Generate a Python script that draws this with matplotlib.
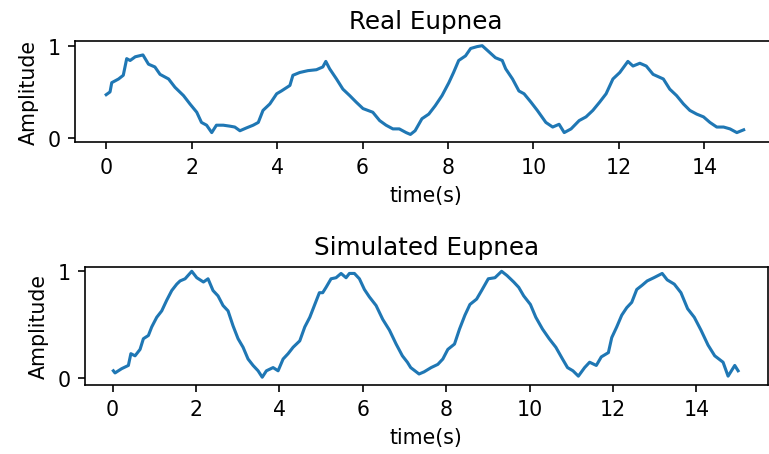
import matplotlib
matplotlib.use("Agg")
import matplotlib.pyplot as plt

# Real eupnea trace
real_t = [0, 0.09, 0.13, 0.29, 0.40, 0.48, 0.56, 0.68, 0.86, 0.99,
          1.14, 1.26, 1.46, 1.61, 1.81, 1.96, 2.12, 2.23, 2.35, 2.47,
          2.58, 2.74, 2.89, 3.01, 3.13, 3.28, 3.44, 3.56, 3.67, 3.83,
          3.99, 4.10, 4.30, 4.37, 4.53, 4.72, 4.92, 5.07, 5.14, 5.23,
          5.39, 5.54, 5.70, 5.85, 6.01, 6.24, 6.40, 6.55, 6.71, 6.86,
          7.02, 7.12, 7.23, 7.39, 7.55, 7.70, 7.86, 8.02, 8.13, 8.25,
          8.41, 8.53, 8.68, 8.80, 8.92, 9.11, 9.27, 9.35, 9.51, 9.66,
          9.78, 9.94, 10.09, 10.29, 10.45, 10.60, 10.72, 10.88, 11.07, 11.23,
          11.39, 11.55, 11.70, 11.86, 12.02, 12.21, 12.33, 12.49, 12.64, 12.80,
          13.04, 13.19, 13.35, 13.51, 13.66, 13.82, 13.98, 14.13, 14.29, 14.45,
          14.60, 14.76, 14.92]
real_amp = [0.47, 0.50, 0.60, 0.64, 0.68, 0.86, 0.84, 0.88, 0.90, 0.80,
            0.77, 0.69, 0.64, 0.55, 0.46, 0.37, 0.28, 0.17, 0.14, 0.06,
            0.14, 0.14, 0.13, 0.12, 0.08, 0.11, 0.14, 0.17, 0.30, 0.37,
            0.48, 0.51, 0.57, 0.68, 0.71, 0.73, 0.74, 0.77, 0.83, 0.75,
            0.64, 0.53, 0.46, 0.39, 0.32, 0.28, 0.19, 0.14, 0.10, 0.10,
            0.06, 0.04, 0.08, 0.21, 0.26, 0.35, 0.46, 0.60, 0.71, 0.84,
            0.89, 0.97, 0.99, 1.00, 0.95, 0.87, 0.84, 0.75, 0.64, 0.51,
            0.48, 0.39, 0.30, 0.17, 0.12, 0.15, 0.06, 0.10, 0.19, 0.23,
            0.30, 0.39, 0.48, 0.64, 0.71, 0.83, 0.78, 0.81, 0.78, 0.69,
            0.64, 0.53, 0.46, 0.37, 0.30, 0.26, 0.23, 0.17, 0.12, 0.12,
            0.10, 0.06, 0.09]

# Simulated eupnea trace
sim_t = [0.02, 0.06, 0.22, 0.38, 0.44, 0.54, 0.66, 0.74, 0.86, 0.94,
         1.06, 1.18, 1.30, 1.42, 1.54, 1.62, 1.74, 1.90, 2.02, 2.18,
         2.29, 2.41, 2.53, 2.65, 2.77, 2.89, 3.01, 3.13, 3.25, 3.37,
         3.49, 3.59, 3.69, 3.85, 3.97, 4.09, 4.21, 4.33, 4.49, 4.61,
         4.73, 4.84, 4.96, 5.04, 5.12, 5.24, 5.36, 5.48, 5.60, 5.68,
         5.80, 5.92, 6.04, 6.16, 6.32, 6.48, 6.64, 6.80, 6.95, 7.07,
         7.15, 7.35, 7.47, 7.64, 7.80, 7.92, 8.04, 8.20, 8.32, 8.45,
         8.57, 8.73, 8.85, 9.01, 9.17, 9.33, 9.46, 9.62, 9.74, 9.86,
         10.02, 10.15, 10.31, 10.47, 10.63, 10.79, 10.91, 11.04, 11.17, 11.32,
         11.44, 11.60, 11.72, 11.89, 11.97, 12.09, 12.21, 12.33, 12.45, 12.57,
         12.70, 12.82, 12.98, 13.18, 13.30, 13.47, 13.63, 13.79, 13.95, 14.11,
         14.28, 14.44, 14.64, 14.76, 14.92, 15.00]
sim_amp = [0.07, 0.05, 0.09, 0.12, 0.23, 0.21, 0.27, 0.37, 0.40, 0.48,
           0.57, 0.63, 0.73, 0.82, 0.88, 0.91, 0.93, 1.00, 0.94, 0.90,
           0.93, 0.82, 0.77, 0.68, 0.63, 0.49, 0.37, 0.29, 0.18, 0.12,
           0.07, 0.01, 0.07, 0.10, 0.07, 0.18, 0.23, 0.29, 0.35, 0.48,
           0.57, 0.68, 0.80, 0.80, 0.85, 0.93, 0.94, 0.98, 0.94, 0.98,
           0.98, 0.93, 0.83, 0.76, 0.68, 0.55, 0.45, 0.32, 0.21, 0.15,
           0.10, 0.04, 0.06, 0.10, 0.13, 0.18, 0.27, 0.32, 0.46, 0.59,
           0.69, 0.74, 0.82, 0.93, 0.94, 1.00, 0.96, 0.90, 0.85, 0.77,
           0.69, 0.57, 0.46, 0.37, 0.29, 0.18, 0.10, 0.07, 0.02, 0.10,
           0.15, 0.12, 0.20, 0.24, 0.38, 0.48, 0.59, 0.66, 0.71, 0.83,
           0.87, 0.91, 0.94, 0.98, 0.92, 0.88, 0.80, 0.65, 0.57, 0.45,
           0.31, 0.21, 0.15, 0.02, 0.12, 0.07]

x_ticks = [0, 2, 4, 6, 8, 10, 12, 14]
y_ticks = [0, 1]

W, H, DPI = 769, 455, 148
fig = plt.figure(figsize=(W / DPI, H / DPI), dpi=DPI)

# axes boxes in pixels: left, top, right, bottom (top plot runs past the crop)
boxes = [(75, 41.7, 777, 143.3), (85, 267.7, 767.7, 385.7)]
panels = [("Real Eupnea", real_t, real_amp, (-0.73, 15.7), (-0.045, 1.054)),
          ("Simulated Eupnea", sim_t, sim_amp, (-0.66, 15.71), (-0.06, 1.043))]

for (l, t, r, b), (title, xs, ys, xlim, ylim) in zip(boxes, panels):
    ax = fig.add_axes([l / W, 1 - b / H, (r - l) / W, (b - t) / H])
    ax.plot(xs, ys, color="#1f77b4")
    ax.set_xlim(*xlim)
    ax.set_ylim(*ylim)
    ax.set_xticks(x_ticks)
    ax.set_yticks(y_ticks)
    ax.set_title(title)
    ax.set_xlabel("time(s)")
    ax.set_ylabel("Amplitude")

fig.savefig("out.png", dpi=DPI)
